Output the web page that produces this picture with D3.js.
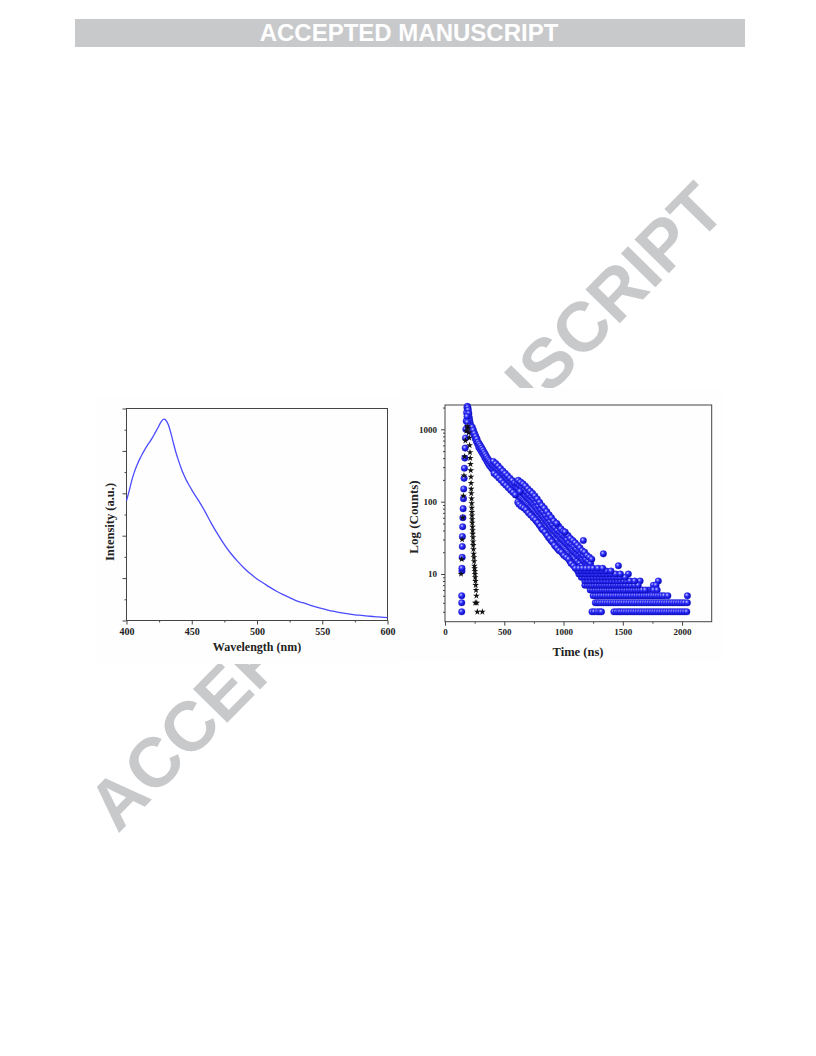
<!DOCTYPE html>
<html><head><meta charset="utf-8">
<script src="https://cdn.jsdelivr.net/npm/d3@7"></script>
<style>body{margin:0;background:#fff}svg{display:block}</style>
</head><body>
<svg id="page" width="816" height="1056"></svg>
<script>
// ---------------- DATA ----------------
const headerText = "ACCEPTED MANUSCRIPT";
const watermarkText = "ACCEPTED MANUSCRIPT";

// Left panel: emission spectrum
const wavelength = [400,402,404,406,408,410,412,414,416,418,420,422,424,426,428,429,430,432,434,436,438,440,442,444,446,448,450,455,460,465,470,475,480,485,490,495,500,505,510,515,520,525,530,535,540,545,550,555,560,565,570,575,580,585,590,595,600];
const intensity = [2.82,3.05,3.30,3.50,3.66,3.80,3.92,4.03,4.13,4.22,4.32,4.43,4.54,4.66,4.74,4.75,4.73,4.62,4.42,4.18,3.95,3.76,3.58,3.43,3.30,3.19,3.08,2.84,2.58,2.29,2.03,1.79,1.58,1.40,1.24,1.10,0.98,0.88,0.78,0.69,0.61,0.54,0.47,0.42,0.37,0.32,0.28,0.24,0.21,0.18,0.155,0.135,0.12,0.105,0.09,0.08,0.07];
const specXTicks = [400,450,500,550,600];
const specXMinor = [425,475,525,575];
const specYTicks = [0,1,2,3,4,5];
const specYMinor = [0.5,1.5,2.5,3.5,4.5];

// Right panel: decay (sample, blue spheres) — [time ns, counts]
const decayRise = [[141,3],[141,4],[141,5],[143,11],[143,12],[145,17],[146,24],[147,33],[149,45],[151,60],[153,80],[156,110],[158,150],[161,210],[164,290],[167,400],[170,550],[173,760],[176,1000],[179,1300],[182,1700],[185,2000],[189,2080],[193,2000],[197,1850],[201,1650],[205,1450],[209,1300],[213,1200],[217,1110],[221,1050],[226,1000],[186,1500],[190,1250],[195,1100],[200,1000],[206,950]];
const decayBand = [[230,1069],[235,911],[240,972],[245,828],[250,875],[255,745],[260,799],[265,681],[270,734],[275,626],[280,664],[285,566],[290,626],[295,534],[300,589],[305,501],[310,551],[315,469],[320,518],[325,442],[330,481],[335,409],[340,451],[345,385],[350,421],[355,359],[360,394],[365,336],[370,373],[375,317],[380,356],[385,304],[390,337],[395,287],[400,324],[405,276],[410,313],[415,267],[420,302],[425,258],[430,292],[435,248],[440,281],[445,239],[450,270],[455,230],[460,259],[465,221],[470,248],[475,212],[480,239],[485,203],[490,230],[495,196],[500,221],[505,189],[510,213],[515,181],[520,205],[525,175],[530,198],[535,168],[540,190],[545,162],[550,184],[555,156],[560,176],[565,150],[570,170],[575,144],[580,163],[585,139],[590,158],[595,134],
[600,158],[605,124],[610,153],[615,121],[620,149],[625,117],[630,144],[635,114],[640,141],[645,111],[650,137],[655,107],[660,132],[665,104],[670,127],[675,99],[680,121],[685,95],[690,116],[695,92],[700,112],[705,88],[710,108],[715,84],[720,104],[725,82],[730,101],[735,79],[740,96],[745,76],[750,92],[755,72],[760,87],[765,69],[770,83],[775,65],[780,78],[785,62],[790,74],[795,58],[800,71],[805,55],[810,67],[815,53],[820,65],[825,51],[830,62],[835,48],[840,58],[845,46],[850,56],[855,44],[860,53],[865,41],[870,50],[875,40],[880,48],[885,38],[890,45],[895,36],[900,43],[905,34],[910,41],[915,33],[920,40],[925,31],[930,38],[935,30],[940,36],[945,29],[950,35],[955,27],[960,34],[965,26],[970,32],[975,26],[980,31],[985,25],[990,30],[995,24],[1000,29],[1005,23],[1010,28],[1015,22],[1020,27],[1025,21],[1030,26],[1035,20],[1040,25],[1045,19],[1050,24],[1055,18],[1060,23],[1065,18],[1070,22],[1075,18],[1080,21],[1085,17],[1090,20],[1095,16],[1100,20],[1105,15],[1110,19],[1115,15],[1120,18],[1125,14],[1130,18],[1135,14],[1140,17],[1145,13],[1150,17],[1155,13],[1160,16],[1165,12],[1170,15],[1175,12],[1180,15],[1185,11],[1190,14],[1195,11],[1200,14],[1205,11],[1210,13],[1215,10],[1220,13],[1225,10],[1230,12],[1235,10],[1240,12],[1245,9]];
const decayMidSpread = [[408,360],[414,246],[428,336],[434,230],[448,312],[454,213],[468,288],[474,197],[488,265],[494,181],[508,246],[514,168],[528,228],[534,156],[548,211],[554,144],[568,196],[574,134],[588,181],[594,124]];
const decayOuter = [[608,180],[614,98],[628,169],[634,93],[648,160],[654,88],[668,148],[674,82],[688,136],[694,75],[708,125],[714,69],[728,117],[734,65],[748,108],[754,59],[768,97],[774,53],[788,87],[794,48],[808,78],[814,43],[828,72],[834,40],[848,65],[854,36],[868,59],[874,32],[888,53],[894,29],[908,48],[914,27],[928,44],[934,24],[948,40],[954,22],[968,38],[974,21],[988,35],[994,19],[1008,33],[1014,18],[1028,30],[1034,17],[1048,27],[1054,15],[1068,26],[1074,14],[1088,24],[1094,13],[1108,22],[1114,12],[1128,21],[1134,11],[1148,19],[1154,10],[1168,18],[1174,10],[1188,16],[1194,9],[1208,15],[1214,8],[1228,14],[1234,8]];
const decayOuterWide = [[618,197],[624,92],[638,186],[644,86],[658,176],[664,82],[678,165],[684,77],[698,151],[704,70],[718,140],[724,65],[738,130],[744,60],[758,120],[764,56],[778,109],[784,51],[798,98],[804,46],[818,88],[824,41],[838,81],[844,38],[858,73],[864,34],[878,66],[884,31],[898,60],[904,28],[918,54],[924,25],[938,50],[944,23],[958,46],[964,21],[978,42],[984,20],[998,39],[1004,18],[1018,36],[1024,17],[1038,34],[1044,16],[1058,31],[1064,14],[1078,29],[1084,13],[1098,27],[1104,12],[1118,25],[1124,11],[1138,23],[1144,11],[1158,21],[1164,10],[1178,20],[1184,9],[1198,18],[1204,8],[1218,17],[1224,8],[1238,16],[1244,7]];
const decayOutliers = [[633,138],[942,50],[1013,38],[1167,29],[1336,19],[1463,13],[1547,10],[1646,8],[1800,8],[1758,7],[1780,7],[1716,6],[1760,6],[1790,6]];
// discrete low-count rows in the tail: level -> times
const tailLevels = [3,4,5,6,7,8,9,10,11,12];
const tailTimes = [
  [1240,1260,1285,1305,1320,1425,1445,1465,1480,1500,1520,1540,1560,1580,1600,1620,1640,1660,1680,1700,1720,1740,1760,1780,1800,1820,1840,1860,1880,1900,1920,1940,1960,1980,2000,2020,2040],
  [1268,1285,1300,1320,1340,1360,1380,1400,1420,1440,1460,1480,1500,1520,1540,1560,1580,1600,1620,1640,1660,1680,1700,1720,1740,1760,1780,1800,1820,1840,1860,1880,1900,1920,1940,1960,1980,2000,2020,2045],
  [1250,1270,1290,1310,1330,1350,1370,1390,1410,1430,1450,1470,1490,1510,1530,1550,1570,1590,1610,1630,1650,1670,1690,1710,1730,1750,1770,1790,1810,1830,1850,1880,2045],
  [1225,1245,1265,1285,1305,1325,1345,1365,1385,1405,1425,1445,1465,1485,1505,1525,1545,1565,1585,1605,1625,1645,1665,1690],
  [1180,1200,1220,1240,1260,1280,1300,1320,1340,1360,1380,1400,1420,1440,1460,1480,1500,1520,1545,1570,1600,1630],
  [1180,1205,1230,1255,1280,1305,1330,1355,1380,1405,1430,1455,1480,1505,1530,1560,1600],
  [1150,1175,1200,1225,1250,1275,1300,1325,1350,1375,1400,1425,1450,1480,1520],
  [1130,1160,1190,1220,1250,1280,1310,1340,1370,1400,1440,1480],
  [1120,1150,1180,1210,1240,1270,1300,1330,1360,1400],
  [1100,1130,1160,1190,1220,1250,1290,1330]
];
// instrument response (black stars) — [time ns, counts]
const irf = [[135,10],[141,16],[145,30],[150,60],[155,120],[160,230],[165,420],[172,700],[180,950],[188,1100],[195,1050],[200,900],[205,760],[208,600],[211,480],[213,400],[215,330],[217,270],[219,220],[220,180],[221,150],[222,130],[224,110],[225,95],[226,82],[227,72],[228,64],[229,57],[230,51],[232,45],[233,40],[234,36],[236,32],[237,28],[238,25],[240,22],[242,19],[244,17],[246,15],[248,13],[250,12],[252,11],[253,10],[255,9],[257,8],[259,7],[262,6],[265,5],[255,4],[268,4],[273,3],[315,3]];
const decayXTicks = [0,500,1000,1500,2000];
const decayXMinor = [250,750,1250,1750];
const decayYTicks = [10,100,1000];
const decayYMinor = [3,4,5,6,7,8,9,20,30,40,50,60,70,80,90,200,300,400,500,600,700,800,900,2000];

// ---------------- DRAW ----------------
const svg = d3.select("#page");
const serif = "'Liberation Serif','Times New Roman',serif";
const sans = "'Liberation Sans',Arial,Helvetica,sans-serif";

// header bar
svg.append("rect").attr("x",75).attr("y",19).attr("width",670).attr("height",28).attr("fill","#c8c9cb");
svg.append("text").attr("x",409).attr("y",41).attr("text-anchor","middle")
  .attr("font-family",sans).attr("font-weight","bold").attr("font-size",24).attr("fill","#fff")
  .text(headerText);

// diagonal watermark
svg.append("text").attr("transform","translate(423,523.5) rotate(-45.5)")
  .attr("text-anchor","middle").attr("font-family",sans).attr("font-weight","bold")
  .attr("font-size",70).attr("fill","#c8c9cb").text(watermarkText);

// figure image backgrounds (cover the watermark)
svg.append("rect").attr("x",97).attr("y",396).attr("width",303).attr("height",268).attr("fill","#fefefe");
svg.append("rect").attr("x",400).attr("y",388).attr("width",322).attr("height",274).attr("fill","#fefefe");

const axisColor = "#444";
function styleAxis(g, fs){
  g.select(".domain").remove();
  g.selectAll("line").attr("stroke",axisColor).attr("stroke-width",1);
  g.selectAll("text").attr("font-family",serif).attr("font-weight","bold").attr("font-size",fs).attr("fill","#222");
}

// ---- Left panel ----
{
  const L=126.5,R=387.5,T=408.5,B=620.5;
  const x = d3.scaleLinear().domain([400,600]).range([L,R]);
  const y = d3.scaleLinear().domain([0,5]).range([B,T]);
  const g = svg.append("g");
  g.append("g").attr("transform",`translate(0,${B})`)
    .call(d3.axisBottom(x).tickValues(specXTicks).tickSize(4).tickPadding(3).tickSizeOuter(0))
    .call(a=>styleAxis(a,10));
  g.append("g").attr("transform",`translate(0,${B})`)
    .call(d3.axisBottom(x).tickValues(specXMinor).tickSize(2).tickFormat("").tickSizeOuter(0))
    .call(a=>styleAxis(a,10));
  g.append("g").attr("transform",`translate(${L},0)`)
    .call(d3.axisLeft(y).tickValues(specYTicks).tickSize(4).tickFormat("").tickSizeOuter(0))
    .call(a=>styleAxis(a,10));
  g.append("g").attr("transform",`translate(${L},0)`)
    .call(d3.axisLeft(y).tickValues(specYMinor).tickSize(2).tickFormat("").tickSizeOuter(0))
    .call(a=>styleAxis(a,10));
  g.append("rect").attr("x",L).attr("y",T).attr("width",R-L).attr("height",B-T)
    .attr("fill","none").attr("stroke",axisColor).attr("stroke-width",1);
  const line = d3.line().x((d,i)=>x(wavelength[i])).y(d=>y(d)).curve(d3.curveMonotoneX);
  g.append("path").attr("d",line(intensity)).attr("fill","none").attr("stroke","#4b4bff").attr("stroke-width",1.3);
  g.append("text").attr("x",(L+R)/2).attr("y",651).attr("text-anchor","middle")
    .attr("font-family",serif).attr("font-weight","bold").attr("font-size",12).attr("fill","#222").text("Wavelength (nm)");
  g.append("text").attr("transform",`translate(114,522) rotate(-90)`).attr("text-anchor","middle")
    .attr("font-family",serif).attr("font-weight","bold").attr("font-size",12.5).attr("fill","#222").text("Intensity (a.u.)");
}

// ---- Right panel ----
{
  const L=445,R=711.7,T=405,B=621.7;
  const x = d3.scaleLinear().domain([0,2250]).range([L,R]);
  const y = d3.scaleLog().domain([2.19,2170]).range([B,T]);
  const defs = svg.append("defs");
  const grad = defs.append("radialGradient").attr("id","sphere").attr("cx","38%").attr("cy","35%").attr("r","65%");
  grad.append("stop").attr("offset","0%").attr("stop-color","#c8c8ff");
  grad.append("stop").attr("offset","40%").attr("stop-color","#3232ff");
  grad.append("stop").attr("offset","100%").attr("stop-color","#0505b5");
  const g = svg.append("g");
  g.append("g").attr("transform",`translate(0,${B})`)
    .call(d3.axisBottom(x).tickValues(decayXTicks).tickSize(4).tickPadding(3).tickFormat(d3.format("d")).tickSizeOuter(0))
    .call(a=>styleAxis(a,9));
  g.append("g").attr("transform",`translate(0,${B})`)
    .call(d3.axisBottom(x).tickValues(decayXMinor).tickSize(2).tickFormat("").tickSizeOuter(0))
    .call(a=>styleAxis(a,9));
  g.append("g").attr("transform",`translate(${L},0)`)
    .call(d3.axisLeft(y).tickValues(decayYTicks).tickSize(4).tickPadding(4).tickFormat(d3.format("d")).tickSizeOuter(0))
    .call(a=>styleAxis(a,9));
  g.append("g").attr("transform",`translate(${L},0)`)
    .call(d3.axisLeft(y).tickValues(decayYMinor).tickSize(2).tickFormat("").tickSizeOuter(0))
    .call(a=>styleAxis(a,9));
  g.append("rect").attr("x",L).attr("y",T).attr("width",R-L).attr("height",B-T)
    .attr("fill","none").attr("stroke",axisColor).attr("stroke-width",1);

  const tail = [];
  tailLevels.forEach((lv,i)=>tailTimes[i].forEach(t=>tail.push([t,lv])));
  const blue = decayRise.concat(decayBand, decayMidSpread, decayOuter, decayOuterWide, decayOutliers, tail);
  g.append("g").selectAll("circle").data(blue).join("circle")
    .attr("cx",d=>x(d[0])).attr("cy",d=>y(d[1])).attr("r",3.3)
    .attr("fill","url(#sphere)").attr("stroke","#1a1acc").attr("stroke-width",0.3);
  g.append("g").selectAll("path").data(irf).join("path")
    .attr("transform",d=>`translate(${x(d[0])},${y(d[1])})`)
    .attr("d",d3.symbol(d3.symbolStar,14)).attr("fill","#111");

  g.append("text").attr("x",578).attr("y",656).attr("text-anchor","middle")
    .attr("font-family",serif).attr("font-weight","bold").attr("font-size",12.5).attr("fill","#222").text("Time (ns)");
  g.append("text").attr("transform",`translate(418,517) rotate(-90)`).attr("text-anchor","middle")
    .attr("font-family",serif).attr("font-weight","bold").attr("font-size",13).attr("fill","#222").text("Log (Counts)");
}
</script>
</body></html>
